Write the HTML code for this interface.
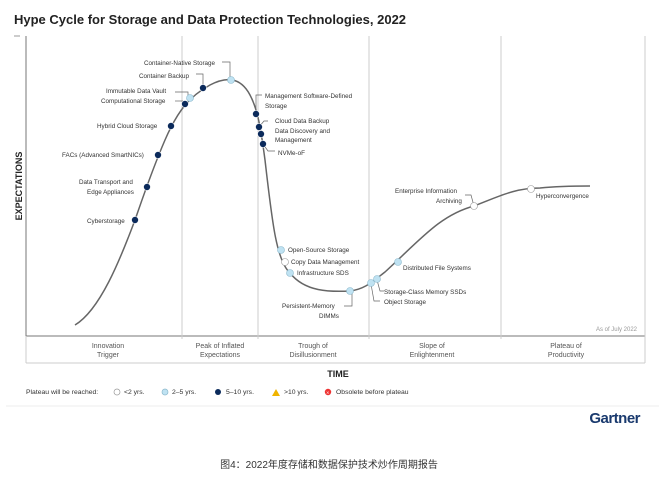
<!DOCTYPE html>
<html><head><meta charset="utf-8"><style>
body{margin:0;background:#fff;}
svg{display:block;font-family:"Liberation Sans","Noto Sans CJK SC",sans-serif;}
</style></head><body>
<svg width="659" height="480" viewBox="0 0 659 480">
<text x="14" y="24" font-size="13" font-weight="bold" fill="#222">Hype Cycle for Storage and Data Protection Technologies, 2022</text>
<line x1="14" y1="36" x2="20" y2="36" stroke="#999"/>
<line x1="26" y1="36" x2="26" y2="336" stroke="#777"/>
<line x1="26" y1="336" x2="645" y2="336" stroke="#777"/>
<g stroke="#ccc"><line x1="182" y1="36" x2="182" y2="339"/><line x1="258" y1="36" x2="258" y2="339"/><line x1="369" y1="36" x2="369" y2="339"/><line x1="501" y1="36" x2="501" y2="339"/><line x1="645" y1="36" x2="645" y2="363"/><line x1="26" y1="363" x2="645" y2="363"/><line x1="26" y1="336" x2="26" y2="363"/></g>
<text x="22" y="186" font-size="9" font-weight="bold" fill="#222" transform="rotate(-90 22 186)" text-anchor="middle">EXPECTATIONS</text>
<text x="637" y="331" font-size="6" fill="#999" text-anchor="end">As of July 2022</text>
<g font-size="7" fill="#555" text-anchor="middle">
<text x="108" y="348">Innovation</text><text x="108" y="357">Trigger</text>
<text x="220" y="348">Peak of Inflated</text><text x="220" y="357">Expectations</text>
<text x="313" y="348">Trough of</text><text x="313" y="357">Disillusionment</text>
<text x="432" y="348">Slope of</text><text x="432" y="357">Enlightenment</text>
<text x="566" y="348">Plateau of</text><text x="566" y="357">Productivity</text>
</g>
<text x="338" y="377" font-size="9" font-weight="bold" fill="#222" text-anchor="middle">TIME</text>
<path d="M75,325 C100,310 120,260 135,220 C142,200 152,170 165,140 C178,110 190,96 210,85 C225,77 240,76 250,95 C258,110 261,130 265,160 C272,220 276,260 290,273 C305,292 330,292 350,291 C365,289 372,282 385,272 C420,240 440,215 474,206 C500,196 515,188 540,188 C560,186 575,186 590,186" fill="none" stroke="#666" stroke-width="1.5"/>
<g stroke="#666" stroke-width="0.7" fill="none">
<path d="M222,62 H230 V77"/><path d="M196,74 H203 V85"/><path d="M175,92 H188 V96"/><path d="M175,101 H183"/>
<path d="M256,110 V95 H262"/><path d="M259,127 L264,121 H268"/><path d="M263,144 L268,151 H275"/>
<path d="M352,292 V306 H344"/><path d="M371,284 L374,301 H380"/><path d="M377,280 L380,291 H384"/>
<path d="M474,206 L471,195 H465"/>
</g>
<g font-size="6.3" fill="#333">
<text x="144" y="65">Container-Native Storage</text>
<text x="139" y="78">Container Backup</text>
<text x="106" y="93">Immutable Data Vault</text>
<text x="101" y="103">Computational Storage</text>
<text x="97" y="128">Hybrid Cloud Storage</text>
<text x="62" y="157">FACs (Advanced SmartNICs)</text>
<text x="79" y="184">Data Transport and</text><text x="87" y="194">Edge Appliances</text>
<text x="87" y="223">Cyberstorage</text>
<text x="265" y="98">Management Software-Defined</text><text x="265" y="108">Storage</text>
<text x="275" y="123">Cloud Data Backup</text>
<text x="275" y="133">Data Discovery and</text><text x="275" y="142">Management</text>
<text x="278" y="155">NVMe-oF</text>
<text x="288" y="252">Open-Source Storage</text>
<text x="291" y="264">Copy Data Management</text>
<text x="297" y="275">Infrastructure SDS</text>
<text x="282" y="308">Persistent-Memory</text><text x="319" y="318">DIMMs</text>
<text x="384" y="294">Storage-Class Memory SSDs</text>
<text x="384" y="304">Object Storage</text>
<text x="403" y="270">Distributed File Systems</text>
<text x="395" y="193">Enterprise Information</text><text x="436" y="203">Archiving</text>
<text x="536" y="198">Hyperconvergence</text>
</g>
<g stroke="#fff" stroke-width="0.6">
<g fill="#0b2a5b">
<circle cx="135" cy="220" r="3.5"/><circle cx="147" cy="187" r="3.5"/><circle cx="158" cy="155" r="3.5"/><circle cx="171" cy="126" r="3.5"/><circle cx="185" cy="104" r="3.5"/><circle cx="203" cy="88" r="3.5"/>
<circle cx="256" cy="114" r="3.5"/><circle cx="259" cy="127" r="3.5"/><circle cx="261" cy="134" r="3.5"/><circle cx="263" cy="144" r="3.5"/>
</g>
<g fill="#bfe2f2" stroke="#8cb9cc">
<circle cx="190" cy="98" r="3.5"/><circle cx="231" cy="80" r="3.5"/><circle cx="281" cy="250" r="3.5"/><circle cx="290" cy="273" r="3.5"/><circle cx="350" cy="291" r="3.5"/><circle cx="371" cy="283" r="3.5"/><circle cx="377" cy="279" r="3.5"/><circle cx="398" cy="262" r="3.5"/>
</g>
<g fill="#fff" stroke="#999">
<circle cx="285" cy="262" r="3.5"/><circle cx="474" cy="206" r="3.5"/><circle cx="531" cy="189" r="3.5"/>
</g>
</g>
<g font-size="6.8" fill="#333">
<text x="26" y="394">Plateau will be reached:</text>
<circle cx="117" cy="392" r="3" fill="#fff" stroke="#999" stroke-width="0.7"/><text x="124" y="394">&lt;2 yrs.</text>
<circle cx="165" cy="392" r="3" fill="#bfe2f2" stroke="#8cb9cc" stroke-width="0.7"/><text x="172" y="394">2–5 yrs.</text>
<circle cx="218" cy="392" r="3" fill="#0b2a5b"/><text x="226" y="394">5–10 yrs.</text>
<polygon points="276,389 280,396 272,396" fill="#f0b400"/><text x="284" y="394">&gt;10 yrs.</text>
<circle cx="328" cy="392" r="3.2" fill="#e33"/><text x="326.3" y="394.3" font-size="5" fill="#fff">×</text><text x="336" y="394">Obsolete before plateau</text>
</g>
<line x1="6" y1="406" x2="659" y2="406" stroke="#eee"/>
<text x="640" y="423" font-size="15" font-weight="bold" fill="#1a3a6e" text-anchor="end" letter-spacing="-0.5">Gartner</text>
<text x="329" y="468" font-size="10" fill="#333" text-anchor="middle">图4：2022年度存储和数据保护技术炒作周期报告</text>
</svg>
</body></html>
